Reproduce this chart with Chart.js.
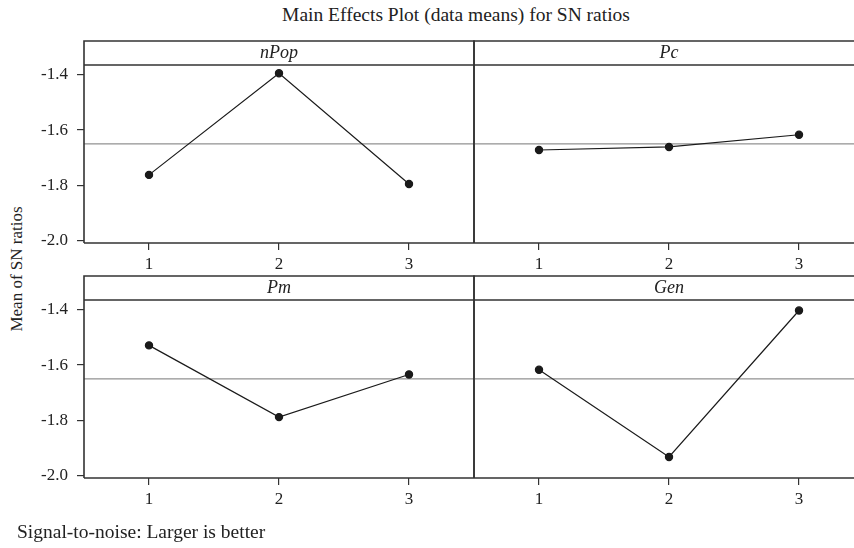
<!DOCTYPE html>
<html>
<head>
<meta charset="utf-8">
<script src="https://cdn.jsdelivr.net/npm/chart.js@4/dist/chart.umd.min.js"></script>
<style>
    body { margin: 0; width: 854px; height: 548px; overflow: hidden; background: #fff;
           position: relative; font-family: "Liberation Serif", "DejaVu Serif", serif; color: #222; }
    canvas { position: absolute; }
    #title { position: absolute; top: 4px; left: 456px; font-size: 19.5px; white-space: nowrap;
             transform: translateX(-50%); }
    #ylabel { position: absolute; left: 17px; top: 269px; font-size: 17px; white-space: nowrap;
              transform: translate(-50%, -50%) rotate(-90deg); }
    #footer { position: absolute; left: 17px; top: 521px; font-size: 19.5px; white-space: nowrap; }
</style>
</head>
<body>
<div id="title">Main Effects Plot (data means) for SN ratios</div>
<div id="ylabel">Mean of SN ratios</div>
<canvas id="c0" width="456" height="238" style="left:20px;top:39px"></canvas>
<canvas id="c1" width="382" height="238" style="left:472px;top:39px"></canvas>
<canvas id="c2" width="456" height="238" style="left:20px;top:274px"></canvas>
<canvas id="c3" width="382" height="238" style="left:472px;top:274px"></canvas>
<div id="footer">Signal-to-noise: Larger is better</div>

<script>
// factor levels and mean SN ratio per level
const levels = [1, 2, 3];
const factors = ["nPop", "Pc", "Pm", "Gen"];
const nPopMeans = [-1.762, -1.395, -1.795];
const pcMeans = [-1.672, -1.661, -1.617];
const pmMeans = [-1.529, -1.788, -1.634];
const genMeans = [-1.617, -1.932, -1.403];
const overallMean = -1.65;
const yTicks = [-1.4, -1.6, -1.8, -2.0];

const seriesList = [nPopMeans, pcMeans, pmMeans, genMeans];
const font = '"Liberation Serif", "DejaVu Serif", serif';

// panel frame + strip header with the factor name
const framePlugin = {
    id: "frame",
    afterDraw(chart, args, opts) {
        const ctx = chart.ctx;
        const a = chart.chartArea;
        const top = a.top - opts.strip;
        ctx.save();
        ctx.strokeStyle = "#333";
        ctx.lineWidth = 1.6;
        ctx.beginPath();
        ctx.moveTo(a.left, a.bottom);
        ctx.lineTo(a.left, top);
        ctx.lineTo(a.right, top);
        if (opts.closeRight) ctx.lineTo(a.right, a.bottom);
        ctx.moveTo(a.left, a.top);
        ctx.lineTo(a.right, a.top);
        ctx.moveTo(a.left, a.bottom);
        ctx.lineTo(a.right, a.bottom);
        ctx.stroke();

        ctx.fillStyle = "#222";
        ctx.font = "italic 18px " + font;
        ctx.textAlign = "center";
        ctx.textBaseline = "middle";
        ctx.fillText(opts.label, chart.scales.x.getPixelForValue(2), top + opts.strip / 2);
        ctx.restore();
    }
};

function makePanel(i) {
    const left = i % 2 === 0;
    const values = seriesList[i];
    const xMax = left ? 3.5 : 3.423;

    return new Chart(document.getElementById("c" + i), {
        type: "line",
        data: {
            datasets: [{
                data: levels.map((l, k) => ({ x: l, y: values[k] })),
                borderColor: "#1a1a1a",
                backgroundColor: "#1a1a1a",
                borderWidth: 1.2,
                pointRadius: 3.6,
                pointHoverRadius: 3.6,
                tension: 0,
                clip: false
            }, {
                data: [{ x: 0.5, y: overallMean }, { x: xMax, y: overallMean }],
                borderColor: "#777",
                borderWidth: 1,
                pointRadius: 0,
                order: 2
            }]
        },
        plugins: [framePlugin],
        options: {
            responsive: false,
            animation: false,
            devicePixelRatio: 1,
            layout: {
                autoPadding: false,
                padding: { top: 26, left: left ? 0 : 2, right: left ? 2 : 0, bottom: 0 }
            },
            plugins: {
                legend: { display: false },
                tooltip: { enabled: false },
                frame: { label: factors[i], strip: 24, closeRight: left }
            },
            scales: {
                x: {
                    type: "linear",
                    min: 0.5,
                    max: xMax,
                    afterBuildTicks: s => { s.ticks = levels.map(v => ({ value: v })); },
                    afterFit: s => { s.height = 34; s.paddingLeft = 0; s.paddingRight = 0; },
                    border: { display: false },
                    grid: { drawOnChartArea: false, drawTicks: true, tickLength: 7, color: "#333", lineWidth: 1.2 },
                    ticks: { font: { family: font, size: 17 }, color: "#222", padding: 4, maxRotation: 0 }
                },
                y: {
                    display: left,
                    min: -2.008,
                    max: -1.365,
                    afterBuildTicks: s => { s.ticks = yTicks.map(v => ({ value: v })); },
                    afterFit: s => { s.width = left ? 64 : 0; s.paddingTop = 0; s.paddingBottom = 0; },
                    border: { display: false },
                    grid: { drawOnChartArea: false, drawTicks: true, tickLength: 7, color: "#333", lineWidth: 1.2 },
                    ticks: {
                        font: { family: font, size: 17 },
                        color: "#222",
                        padding: 9,
                        callback: v => v.toFixed(1)
                    }
                }
            }
        }
    });
}

factors.forEach((f, i) => makePanel(i));
</script>
</body>
</html>
